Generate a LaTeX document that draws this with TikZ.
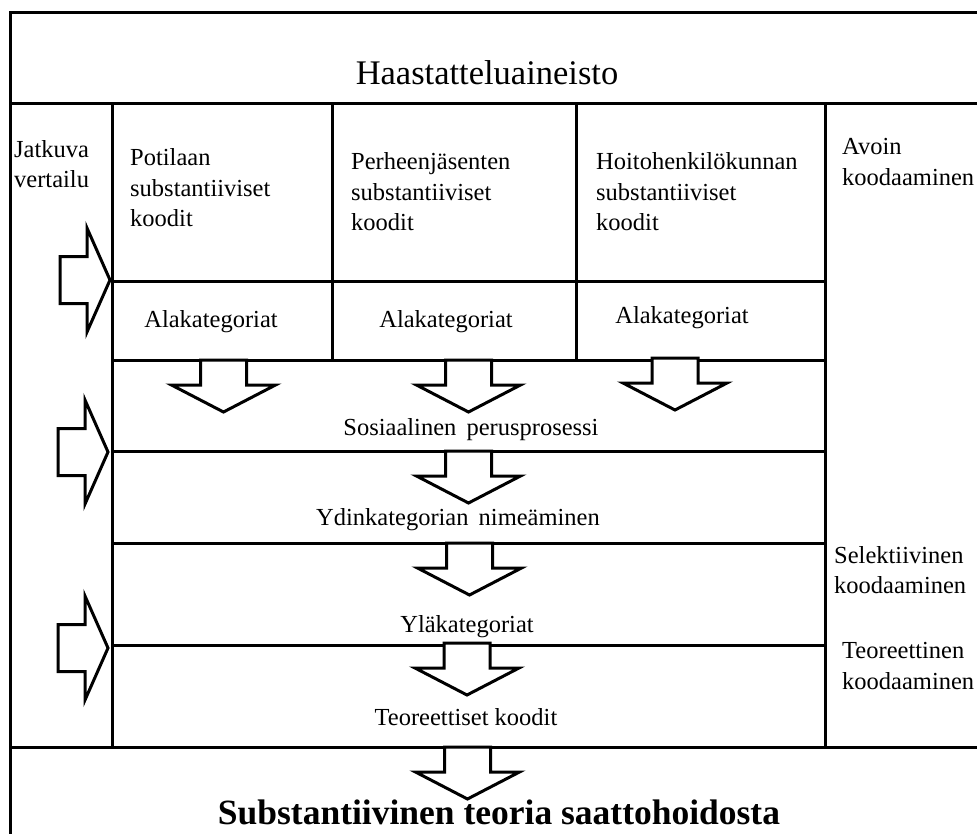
\documentclass[tikz,border=0pt]{standalone}
\usepackage{fontspec}
\setmainfont{Liberation Serif}
\tikzset{
  frame/.style={line width=3pt, line cap=rect},
  blockarrow/.style={draw, fill=white, line width=3pt, line join=miter},
  txt/.style={inner sep=0pt, font=\fontsize{24.5}{30.5}\selectfont},
  lefttxt/.style={txt, anchor=west, align=left},
  bigtxt/.style={inner sep=0pt, font=\fontsize{34.5}{40}\selectfont},
  bigbold/.style={inner sep=0pt, font=\fontsize{35.5}{40}\selectfont\bfseries},
  darrow/.pic={\draw[blockarrow] (-23,0) -- (-23,25) -- (-52,25) -- (0,52) -- (52,25) -- (23,25) -- (23,0) -- cycle;},
  rarrow/.pic={\draw[blockarrow] (0,-23.5) -- (27,-23.5) -- (27,-52) -- (50,0) -- (27,52) -- (27,23.5) -- (0,23.5) -- cycle;}
}
\begin{document}
\begin{tikzpicture}[x=1pt,y=-1pt]
\useasboundingbox (0,0) rectangle (977,833);
% frame lines
\draw[frame] (990,12) -- (10,12) -- (10,850);
\draw[frame] (10,103) -- (990,103);
\draw[frame] (10,747) -- (990,747);
\draw[frame] (112,103) -- (112,747);
\draw[frame] (825,103) -- (825,747);
\draw[frame] (332,103) -- (332,360);
\draw[frame] (576,103) -- (576,360);
\draw[frame] (112,281) -- (825,281);
\draw[frame] (112,360) -- (825,360);
\draw[frame] (112,451) -- (825,451);
\draw[frame] (112,543) -- (825,543);
\draw[frame] (112,645) -- (825,645);
% texts
\node[bigtxt] (title) at (487,73) {Haastatteluaineisto};
\node[lefttxt] (jatkuva) at (14,164) {Jatkuva\\vertailu};
\node[lefttxt] (potilaan) at (130,188) {Potilaan\\substantiiviset\\koodit};
\node[lefttxt] (perhe) at (351,192) {Perheenjäsenten\\substantiiviset\\koodit};
\node[lefttxt] (hoito) at (596,192) {Hoitohenkilökunnan\\substantiiviset\\koodit};
\node[lefttxt] (avoin) at (842,162) {Avoin\\koodaaminen};
\node[lefttxt] (selek) at (834,570) {Selektiivinen\\koodaaminen};
\node[lefttxt] (teor) at (842,666) {Teoreettinen\\koodaaminen};
\node[txt] (ala1) at (211,322) {Alakategoriat};
\node[txt] (ala2) at (446,322) {Alakategoriat};
\node[txt] (ala3) at (682,318) {Alakategoriat};
% arrows
\pic (r1) at (60,280) {rarrow};
\pic (r2) at (58,452) {rarrow};
\pic (r3) at (58,648) {rarrow};
\pic (d1) at (223.5,360) {darrow};
\pic (d2) at (468.5,360) {darrow};
\pic (d3) at (675,358) {darrow};
\pic (d4) at (468.5,451) {darrow};
\pic (d5) at (469.5,543) {darrow};
\pic (d6) at (467,643) {darrow};
\pic (d7) at (467.5,747) {darrow};
\node[txt] (sos) at (471,430) {Sosiaalinen\hspace{4pt} perusprosessi};
\node[txt] (ydin) at (458,520) {Ydinkategorian\hspace{4pt} nimeäminen};
\node[txt] (yla) at (467,627) {Yläkategoriat};
\node[txt] (teoreet) at (466,717) {Teoreettiset koodit};
\node[bigbold] (subst) at (499,812) {Substantiivinen teoria saattohoidosta};
\end{tikzpicture}
\end{document}
